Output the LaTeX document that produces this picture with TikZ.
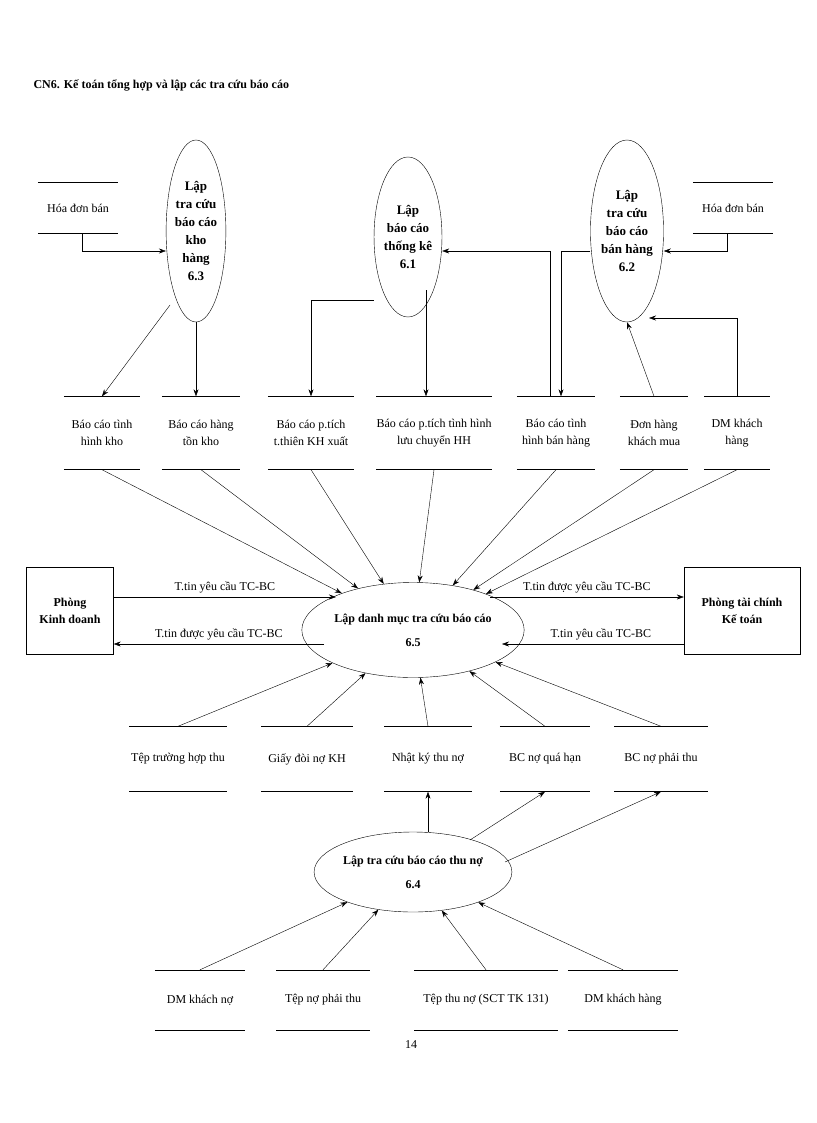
\documentclass[tikz,border=0pt]{standalone}
\usepackage{fontspec}
\setmainfont{Liberation Serif}
\usetikzlibrary{shapes.geometric, arrows.meta}

\begin{document}
\begin{tikzpicture}[x=1pt, y=-1pt,
    font=\fontsize{12}{17}\selectfont,
    proc/.style={ellipse, draw, inner sep=0pt, align=center},
    store/.style={minimum height=#1, inner sep=0pt, align=center},
    store/.default=50,
    box/.style={rectangle, draw, align=center, font=\fontsize{12}{17}\selectfont\bfseries},
    arrow/.style={-{Stealth[length=7pt, width=5pt]}}
]
    \useasboundingbox (0,0) rectangle (816,1123);
    \node[anchor=west, font=\fontsize{12}{14}\selectfont\bfseries] (title) at (30,85) {CN6. Kế toán tổng hợp và lập các tra cứu báo cáo};

    % processes
    \node[proc, minimum width=58, minimum height=182, font=\fontsize{13}{18}\selectfont\bfseries] (p63) at (196,231) {Lập\\tra cứu\\báo cáo\\kho\\hàng\\6.3};
    \node[proc, minimum width=56, minimum height=160, font=\fontsize{13}{18}\selectfont\bfseries] (p61) at (408,237) {Lập\\báo cáo\\thống kê\\6.1};
    \node[proc, minimum width=58, minimum height=182, font=\fontsize{13}{18}\selectfont\bfseries] (p62) at (627,231) {Lập\\tra cứu\\báo cáo\\bán hàng\\6.2};
    \node[proc, minimum width=212, minimum height=95, font=\fontsize{12}{24}\selectfont\bfseries] (p65) at (413,630) {Lập danh mục tra cứu báo cáo\\6.5};
    \node[proc, minimum width=185, minimum height=80, font=\fontsize{12}{24}\selectfont\bfseries] (p64) at (413,872) {Lập tra cứu báo cáo thu nợ\\6.4};

    % stores
    \node[store, minimum width=80] (hdl) at (78,208) {Hóa đơn bán};
    \node[store, minimum width=80] (hdr) at (733,208) {Hóa đơn bán};
    \node[store=73, minimum width=76] (bcthk) at (102,433) {Báo cáo tình\\hình kho};
    \node[store=73, minimum width=78] (bchtk) at (201,433) {Báo cáo hàng\\tồn kho};
    \node[store=73, minimum width=86] (bcptt) at (311,433) {Báo cáo p.tích\\t.thiên KH xuất};
    \node[store=73, minimum width=108] (bcptl) at (434,433) {Báo cáo p.tích tình hình\\lưu chuyển HH};
    \node[store=73, minimum width=78] (bcbh) at (556,433) {Báo cáo tình\\hình bán hàng};
    \node[store=73, minimum width=68] (dhkm) at (654,433) {Đơn hàng\\khách mua};
    \node[store=73, minimum width=65] (dmkh) at (737,433) {DM khách\\hàng};
    \node[store=65, minimum width=97] (tth) at (178,759) {Tệp trường hợp thu};
    \node[store=65, minimum width=91] (gdn) at (307,759) {Giấy đòi nợ KH};
    \node[store=65, minimum width=87] (nktn) at (428,759) {Nhật ký thu nợ};
    \node[store=65, minimum width=90] (bcqh) at (545,759) {BC nợ quá hạn};
    \node[store=65, minimum width=93] (bcpt) at (661,759) {BC nợ phải thu};
    \node[store=60, minimum width=90] (dmkn) at (200,1000) {DM khách nợ};
    \node[store=60, minimum width=93] (tnpt) at (323,1000) {Tệp nợ phải thu};
    \node[store=60, minimum width=143] (ttn) at (486,1000) {Tệp thu nợ (SCT TK 131)};
    \node[store=60, minimum width=110] (dmkh2) at (623,1000) {DM khách hàng};
    \foreach \s in {hdl,hdr,bcthk,bchtk,bcptt,bcptl,bcbh,dhkm,dmkh,tth,gdn,nktn,bcqh,bcpt,dmkn,tnpt,ttn,dmkh2}
        \draw[semithick] (\s.north west) -- (\s.north east) (\s.south west) -- (\s.south east);

    % external entities
    \node[box, minimum width=87, minimum height=87] (pkd) at (70,611) {Phòng\\Kinh doanh};
    \node[box, minimum width=116, minimum height=87] (ptc) at (742,611) {Phòng tài chính\\Kế toán};

    % upper part
    \draw[arrow] ([xshift=-36]hdl.south east) |- (p63.west |- 0,251);
    \draw[arrow] ([xshift=-6]hdr.south) |- (p62.east |- 0,251);
    \draw[arrow] ([xshift=-6]bcbh.north) |- (p61.east |- 0,251);
    \draw[arrow] (p62.west |- 0,251) -| ([xshift=5]bcbh.north);
    \draw[arrow] (p61.west |- 0,300) -| (bcptt.north);
    \coordinate (p61b) at (426,290);
    \draw[arrow] (p61b) -- (p61b |- bcptl.north);
    \coordinate (p63a) at (170,305);
    \draw[arrow] (p63a) -- (bcthk.north);
    \draw[arrow] (p63.south) -- (bchtk.north -| p63.south);
    \draw[arrow] (dhkm.north) -- (p62.south);
    \coordinate (p62c) at (649,318);
    \draw[arrow] (dmkh.north) |- (p62c);

    % to 6.5
    \foreach \s in {bcthk,bchtk,bcptt,bcptl,bcbh,dhkm,dmkh}
        \draw[arrow] (\s.south) -- (p65);
    \foreach \s in {tth,gdn,nktn,bcqh,bcpt}
        \draw[arrow] (\s.north) -- (p65);
    \coordinate (l1) at (336,597);
    \coordinate (l2) at (324,644);
    \coordinate (r1) at (490,597);
    \coordinate (r2) at (502,644);
    \draw[arrow] ([yshift=14]pkd.east) -- node[above] {T.tin yêu cầu TC-BC} (l1);
    \draw[arrow] (l2) -- node[above] {T.tin được yêu cầu TC-BC} ([yshift=-33]pkd.east);
    \draw[arrow] (r1) -- node[above] {T.tin được yêu cầu TC-BC} ([yshift=14]ptc.west);
    \draw[arrow] ([yshift=-33]ptc.west) -- node[above, xshift=8] {T.tin yêu cầu TC-BC} (r2);

    % 6.4
    \draw[arrow] (p64.north -| nktn.south) -- (nktn.south);
    \coordinate (p64a) at (470,840);
    \coordinate (p64b) at (505,862);
    \draw[arrow] (p64a) -- (bcqh.south);
    \draw[arrow] (p64b) -- (bcpt.south);
    \foreach \s in {dmkn,tnpt,ttn,dmkh2}
        \draw[arrow] (\s.north) -- (p64);

    \node (page) at (411,1045) {14};
\end{tikzpicture}
\end{document}
